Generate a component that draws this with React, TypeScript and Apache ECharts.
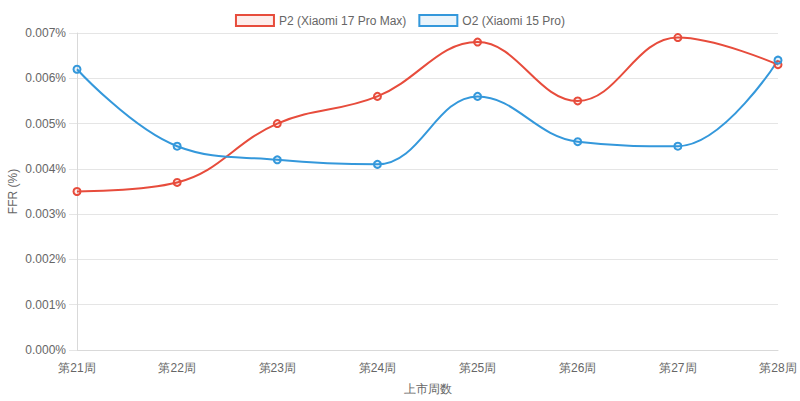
import React, { useEffect, useRef } from "react";
import * as echarts from "echarts";

const categories = ["第21周", "第22周", "第23周", "第24周", "第25周", "第26周", "第27周", "第28周"];
const p2Values = [0.0035, 0.0037, 0.005, 0.0056, 0.0068, 0.0055, 0.0069, 0.0063];
const o2Values = [0.0062, 0.0045, 0.0042, 0.0041, 0.0056, 0.0046, 0.0045, 0.0064];
const seriesNames = ["P2 (Xiaomi 17 Pro Max)", "O2 (Xiaomi 15 Pro)"];

const FONT = "'Liberation Sans', Arial, Helvetica, sans-serif";

export default function App() {
  const ref = useRef<HTMLDivElement>(null);
  useEffect(() => {
    if (!ref.current) return;
    const chart = echarts.init(ref.current, undefined, { renderer: "svg" });
    const mk = (name: string, data: number[], color: string, fill: string) => ({
      name,
      type: "line",
      data,
      smooth: 0.4,
      symbol: "circle",
      symbolSize: 7,
      showSymbol: true,
      lineStyle: { color, width: 2 },
      itemStyle: { color: fill, borderColor: color, borderWidth: 2 },
      emphasis: { disabled: true },
    });
    chart.setOption({
      animation: false,
      textStyle: { fontFamily: FONT },
      legend: {
        top: 9,
        left: "center",
        icon: "rect",
        itemWidth: 38,
        itemHeight: 11,
        itemGap: 12,
        textStyle: { color: "#666", fontSize: 12, fontFamily: FONT },
        data: [
          { name: seriesNames[0], itemStyle: { color: "rgba(231,76,60,0.1)", borderColor: "#e74c3c", borderWidth: 2 } },
          { name: seriesNames[1], itemStyle: { color: "rgba(52,152,219,0.1)", borderColor: "#3498db", borderWidth: 2 } },
        ],
      },
      grid: { left: 77, right: 22, top: 33, bottom: 51, containLabel: false, outerBoundsMode: "none" },
      xAxis: {
        type: "category",
        data: categories,
        boundaryGap: false,
        name: "上市周数",
        nameLocation: "middle",
        nameGap: 33,
        nameMoveOverlap: false,
        nameTextStyle: { color: "#666", fontSize: 12, fontFamily: FONT },
        axisLine: { show: true, lineStyle: { color: "#d9d9d9", width: 1 } },
        axisTick: { show: false },
        axisLabel: { color: "#666", fontSize: 12, margin: 12, fontFamily: FONT },
        splitLine: { show: false },
      },
      yAxis: {
        type: "value",
        min: 0,
        max: 0.007,
        interval: 0.001,
        name: "FFR (%)",
        nameLocation: "middle",
        nameGap: 58,
        nameRotate: 90,
        nameMoveOverlap: false,
        nameTextStyle: { color: "#666", fontSize: 12, fontFamily: FONT },
        axisLine: { show: true, lineStyle: { color: "#d9d9d9", width: 1 } },
        axisTick: { show: true, length: 8, lineStyle: { color: "#e5e5e5" } },
        axisLabel: {
          color: "#666",
          fontSize: 12,
          margin: 11,
          fontFamily: FONT,
          formatter: (v: number) => v.toFixed(3) + "%",
        },
        splitLine: { show: true, lineStyle: { color: "#e5e5e5", width: 1 } },
      },
      series: [
        mk(seriesNames[0], p2Values, "#e74c3c", "rgba(231,76,60,0.1)"),
        mk(seriesNames[1], o2Values, "#3498db", "rgba(52,152,219,0.1)"),
      ],
    });
    return () => chart.dispose();
  }, []);
  return <div ref={ref} style={{ width: 800, height: 401, position: "absolute", left: 0, top: 0, background: "#fff" }} />;
}
